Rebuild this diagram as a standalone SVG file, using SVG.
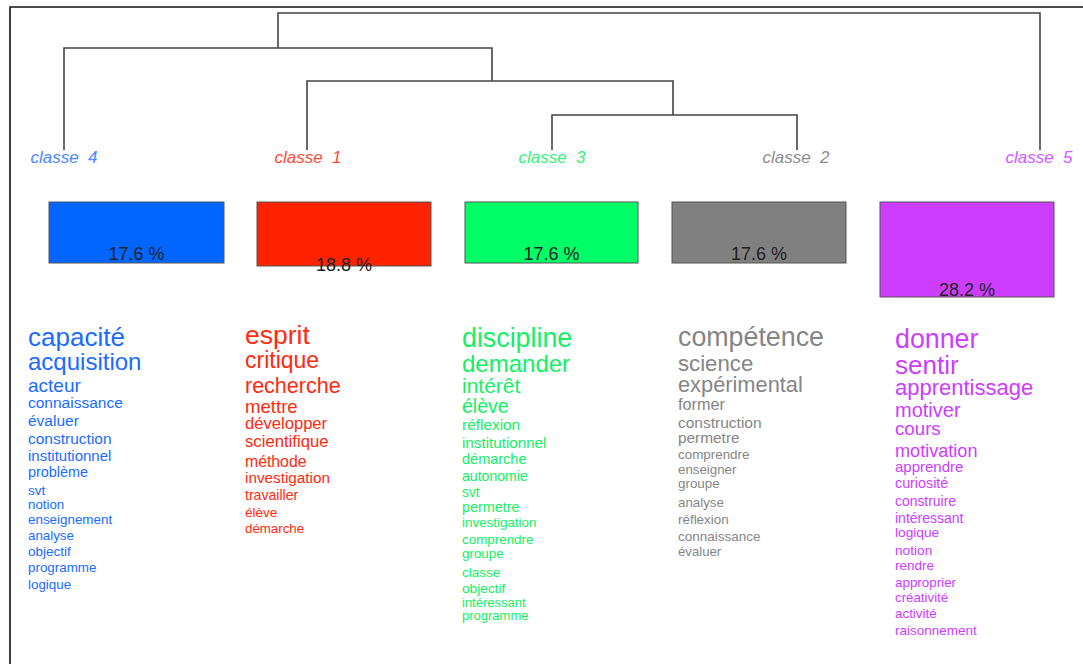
<svg xmlns="http://www.w3.org/2000/svg" width="1083" height="664" viewBox="0 0 1083 664">
<style>
text{font-family:"Liberation Sans",Arial,sans-serif}
.lbl{font-style:italic;font-size:17px;text-anchor:middle}
.pct{font-size:18px;text-anchor:middle;fill:#222}
.bar{stroke:#555;stroke-width:1}
.c4{fill:#1a6bff}.c1{fill:#ff2a10}.c3{fill:#14f065}.c2{fill:#858585}.c5{fill:#cc3dff}
.l4{fill:#4a86ff}.l1{fill:#ff4a3a}.l3{fill:#33f27a}.l2{fill:#8c8c8c}.l5{fill:#d45aff}
.den{fill:none;stroke:#444;stroke-width:1.6}
</style>
<rect width="1083" height="664" fill="#fff"/>
<path d="M10 664 V7 H1083" fill="none" stroke="#111" stroke-width="1.6"/>
<g id="connectors" class="den">
<path d="M278 48 V13 H1040 V150"/>
<path d="M64 150 V48 H492 V81"/>
<path d="M307 150 V81 H673 V115"/>
<path d="M552 150 V115 H797 V150"/>
</g>
<g id="classe4">
<text class="lbl l4" x="64" y="163">classe&#160; 4</text>
<rect class="bar" x="49" y="202" width="175" height="61" fill="#0066ff"/>
<text class="pct" x="136.5" y="260">17.6 %</text>
<g class="c4">
<text x="28" y="346" font-size="26">capacité</text>
<text x="28" y="370" font-size="24">acquisition</text>
<text x="28" y="392" font-size="19">acteur</text>
<text x="28" y="408" font-size="15.5">connaissance</text>
<text x="28" y="426" font-size="15.5">évaluer</text>
<text x="28" y="444" font-size="15.5">construction</text>
<text x="28" y="461" font-size="15">institutionnel</text>
<text x="28" y="477" font-size="14.4">problème</text>
<text x="28" y="495" font-size="13.6">svt</text>
<text x="28" y="509" font-size="13.3">notion</text>
<text x="28" y="524" font-size="13.4">enseignement</text>
<text x="28" y="540" font-size="13.3">analyse</text>
<text x="28" y="556" font-size="13.5">objectif</text>
<text x="28" y="572" font-size="13.4">programme</text>
<text x="28" y="589" font-size="13.4">logique</text>
</g>
</g>
<g id="classe1">
<text class="lbl l1" x="308" y="163">classe&#160; 1</text>
<rect class="bar" x="257" y="202" width="174" height="64" fill="#ff2200"/>
<text class="pct" x="344" y="271">18.8 %</text>
<g class="c1">
<text x="245" y="344" font-size="26.5">esprit</text>
<text x="245" y="368" font-size="23">critique</text>
<text x="245" y="393" font-size="21.5">recherche</text>
<text x="245" y="413" font-size="18.6">mettre</text>
<text x="245" y="429" font-size="16.6">développer</text>
<text x="245" y="447" font-size="16.7">scientifique</text>
<text x="245" y="467" font-size="15.8">méthode</text>
<text x="245" y="483" font-size="15.3">investigation</text>
<text x="245" y="500" font-size="14.1">travailler</text>
<text x="245" y="517" font-size="13.5">élève</text>
<text x="245" y="533" font-size="13.3">démarche</text>
</g>
</g>
<g id="classe3">
<text class="lbl l3" x="552" y="163">classe&#160; 3</text>
<rect class="bar" x="465" y="202" width="173" height="61" fill="#00ff66"/>
<text class="pct" x="551.5" y="260">17.6 %</text>
<g class="c3">
<text x="462" y="347" font-size="26.8">discipline</text>
<text x="462" y="372" font-size="24">demander</text>
<text x="462" y="393" font-size="21">intérêt</text>
<text x="462" y="413" font-size="19.5">élève</text>
<text x="462" y="430" font-size="15.4">réflexion</text>
<text x="462" y="448" font-size="15.2">institutionnel</text>
<text x="462" y="464" font-size="14.5">démarche</text>
<text x="462" y="481" font-size="14.1">autonomie</text>
<text x="462" y="497" font-size="13.8">svt</text>
<text x="462" y="512" font-size="14.4">permetre</text>
<text x="462" y="527" font-size="13.4">investigation</text>
<text x="462" y="544" font-size="13.4">comprendre</text>
<text x="462" y="558" font-size="13.4">groupe</text>
<text x="462" y="577" font-size="13.5">classe</text>
<text x="462" y="593" font-size="13.7">objectif</text>
<text x="462" y="607" font-size="13">intéressant</text>
<text x="462" y="620" font-size="13">programme</text>
</g>
</g>
<g id="classe2">
<text class="lbl l2" x="796" y="163">classe&#160; 2</text>
<rect class="bar" x="672" y="202" width="174" height="61" fill="#808080"/>
<text class="pct" x="759" y="260">17.6 %</text>
<g class="c2">
<text x="678" y="346" font-size="26.8">compétence</text>
<text x="678" y="371" font-size="22.2">science</text>
<text x="678" y="392" font-size="21.8">expérimental</text>
<text x="678" y="410" font-size="16.2">former</text>
<text x="678" y="428" font-size="15.5">construction</text>
<text x="678" y="443" font-size="15.4">permetre</text>
<text x="678" y="459" font-size="13.4">comprendre</text>
<text x="678" y="474" font-size="13.3">enseigner</text>
<text x="678" y="488" font-size="13.4">groupe</text>
<text x="678" y="507" font-size="13.3">analyse</text>
<text x="678" y="524" font-size="13.4">réflexion</text>
<text x="678" y="541" font-size="13.5">connaissance</text>
<text x="678" y="556" font-size="13.2">évaluer</text>
</g>
</g>
<g id="classe5">
<text class="lbl l5" x="1039" y="163">classe&#160; 5</text>
<rect class="bar" x="880" y="202" width="174" height="95" fill="#cc3dff"/>
<text class="pct" x="967" y="296">28.2 %</text>
<g class="c5">
<text x="895" y="348" font-size="26.8">donner</text>
<text x="895" y="374" font-size="26">sentir</text>
<text x="895" y="395" font-size="22">apprentissage</text>
<text x="895" y="417" font-size="20">motiver</text>
<text x="895" y="435" font-size="18.7">cours</text>
<text x="895" y="457" font-size="18.1">motivation</text>
<text x="895" y="472" font-size="15">apprendre</text>
<text x="895" y="488" font-size="14.3">curiosité</text>
<text x="895" y="506" font-size="13.9">construire</text>
<text x="895" y="523" font-size="14">intéressant</text>
<text x="895" y="537" font-size="13.7">logique</text>
<text x="895" y="555" font-size="13.7">notion</text>
<text x="895" y="570" font-size="13.5">rendre</text>
<text x="895" y="587" font-size="13.4">approprier</text>
<text x="895" y="602" font-size="13.3">créativité</text>
<text x="895" y="618" font-size="13.4">activité</text>
<text x="895" y="635" font-size="13.5">raisonnement</text>
</g>
</g>
</svg>
